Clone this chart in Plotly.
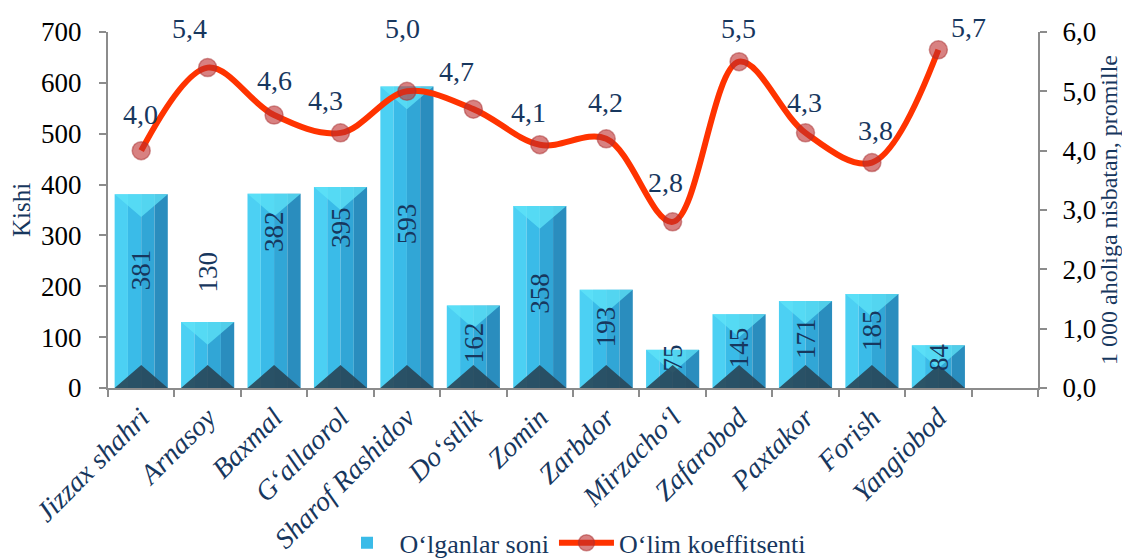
import numpy as np
import plotly.graph_objects as go

# ---------------- data ----------------
categories = ["Jizzax shahri", "Arnasoy", "Baxmal", "G‘allaorol", "Sharof Rashidov",
              "Do‘stlik", "Zomin", "Zarbdor", "Mirzacho‘l", "Zafarobod",
              "Paxtakor", "Forish", "Yangiobod"]
deaths = [381, 130, 382, 395, 593, 162, 358, 193, 75, 145, 171, 185, 84]
rate = [4.0, 5.4, 4.6, 4.3, 5.0, 4.7, 4.1, 4.2, 2.8, 5.5, 4.3, 3.8, 5.7]
left_ticks = [0, 100, 200, 300, 400, 500, 600, 700]
right_ticks = [0, 1, 2, 3, 4, 5, 6]
right_tick_labels = ["0,0", "1,0", "2,0", "3,0", "4,0", "5,0", "6,0"]
bar_name = "O‘lganlar soni"
line_name = "O‘lim koeffitsenti"
left_title = "Kishi"
right_title = "1 000 aholiga nisbatan, promille"

# ---------------- styles ----------------
FONT = "Liberation Serif, Times New Roman, serif"
NAVY = "#17375E"
AXIS = "#8C8C8C"
strip_colors = ["#4CD0F3", "#3ABBE8", "#31A6D6", "#2A8DBE"]
bar_label_dy = [21, 83, 59, 60, 14, 4, 4, 12, 11, 3, 6, 11, 10]
line_label_dx = [-1, -18, 0, -15, -4, -17, -11, -1, -7, -1, -1, 4, 30]
line_label_dy = [36, 39, 35, 32, 63, 38, 32, 36, 39, 33, 30, 32, 22]
bevel = 45  # bevel depth in axis units

x = np.arange(len(categories))
fig = go.Figure()

# bars drawn as vertical strips to imitate the shaded 3D look
for k, c in enumerate(strip_colors):
    fig.add_trace(go.Bar(
        x=x, y=deaths, width=0.2, offset=-0.4 + 0.2 * k,
        marker=dict(color=c, line=dict(width=0)),
        name=bar_name, legendgroup="bars", showlegend=(k == 1),
        hoverinfo="skip"))

# bevel triangles (top light, bottom dark), derived from data
top_x, top_y, bot_x, bot_y = [], [], [], []
for xi, v in zip(x, deaths):
    d = min(bevel, v * 0.6)
    top_x += [xi - 0.4, xi + 0.4, xi, xi - 0.4, None]
    top_y += [v, v, v - d, v, None]
    bot_x += [xi - 0.4, xi + 0.4, xi, xi - 0.4, None]
    bot_y += [0, 0, d, 0, None]
fig.add_trace(go.Scatter(x=top_x, y=top_y, mode="lines", fill="toself",
                         fillcolor="rgba(95,228,248,0.75)", line=dict(width=0),
                         showlegend=False, hoverinfo="skip"))
fig.add_trace(go.Scatter(x=bot_x, y=bot_y, mode="lines", fill="toself",
                         fillcolor="rgba(40,70,88,0.9)", line=dict(width=0),
                         showlegend=False, hoverinfo="skip"))

# line on secondary axis
fig.add_trace(go.Scatter(
    x=x, y=rate, yaxis="y2", name=line_name, mode="lines+markers",
    line=dict(color="#FF3300", width=6, shape="spline", smoothing=1),
    marker=dict(size=18, color="rgba(190,45,45,0.6)",
                line=dict(color="rgba(170,50,50,0.5)", width=1.5)),
    hoverinfo="skip"))

annotations = []
for i, (xi, v) in enumerate(zip(x, deaths)):
    annotations.append(dict(
        x=xi, y=v / 2, xref="x", yref="y", text=str(v), showarrow=False,
        textangle=-90, yshift=bar_label_dy[i],
        font=dict(family=FONT, size=27, color=NAVY)))
for i, (xi, r) in enumerate(zip(x, rate)):
    annotations.append(dict(
        x=xi, y=r, xref="x", yref="y2", text=f"{r:.1f}".replace(".", ","),
        showarrow=False, xshift=line_label_dx[i], yshift=line_label_dy[i],
        font=dict(family=FONT, size=28, color=NAVY)))

# page body adds an 8px margin, so the figure is 8px smaller and margins shifted
fig.update_layout(
    width=1122, height=551,
    margin=dict(l=100, r=92, t=24, b=171, autoexpand=False),
    paper_bgcolor="white", plot_bgcolor="white",
    font=dict(family=FONT, size=26, color="black"),
    barmode="overlay",
    showlegend=True,
    legend=dict(orientation="h", x=0.5, xanchor="center", y=-0.435, yanchor="middle",
                font=dict(family=FONT, size=26, color=NAVY),
                bgcolor="rgba(0,0,0,0)", itemwidth=55, tracegroupgap=0),
    annotations=annotations,
    xaxis=dict(
        range=[-0.5, 13.5], tickmode="array", tickvals=x, ticktext=categories,
        tickangle=-45, ticks="", showline=True, linecolor=AXIS, linewidth=2,
        showgrid=False, zeroline=False, automargin=False,
        tickfont=dict(family=FONT, size=28, color=NAVY, style="italic"),
        minor=dict(tickmode="array", tickvals=list(np.arange(-0.5, 14, 1.0)),
                   ticks="outside", ticklen=7, tickwidth=2, tickcolor=AXIS,
                   showgrid=False)),
    yaxis=dict(
        range=[0, 700], tickmode="array", tickvals=left_ticks,
        ticks="outside", ticklen=7, tickwidth=2, tickcolor=AXIS,
        showline=True, linecolor=AXIS, linewidth=2, showgrid=False, zeroline=False,
        ticklabelstandoff=12, automargin=False,
        tickfont=dict(family=FONT, size=27, color="black"),
        title=dict(text=left_title, standoff=8,
                   font=dict(family=FONT, size=25, color=NAVY))),
    yaxis2=dict(
        overlaying="y", side="right", range=[0, 6], tickmode="array",
        tickvals=right_ticks, ticktext=right_tick_labels,
        ticks="outside", ticklen=7, tickwidth=2, tickcolor=AXIS,
        showline=True, linecolor=AXIS, linewidth=2, showgrid=False, zeroline=False,
        ticklabelstandoff=10, automargin=False,
        tickfont=dict(family=FONT, size=27, color="black"),
        title=dict(text=right_title, standoff=5,
                   font=dict(family=FONT, size=24, color=NAVY))),
)

fig.write_html("out.html")
